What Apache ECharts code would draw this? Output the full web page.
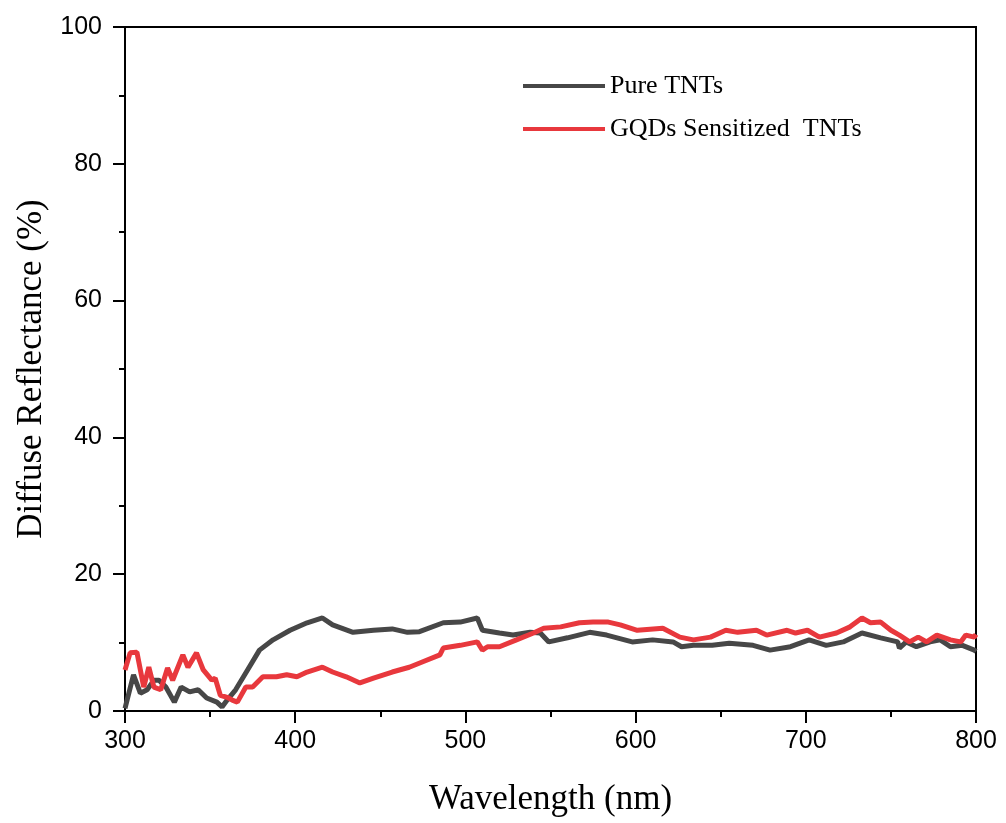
<!DOCTYPE html>
<html>
<head>
<meta charset="utf-8">
<script src="https://cdn.jsdelivr.net/npm/echarts@6/dist/echarts.min.js"></script>
<style>html,body{margin:0;padding:0;background:#fff;}#chart{width:1006px;height:823px;}</style>
</head>
<body>
<div id="chart"></div>
<script>
const seriesNames = ['Pure TNTs', 'GQDs Sensitized  TNTs'];
const pureWl = [300,305,309,313,317,320,324,329,333,338,343,348,354,357,360,365,372,379,387,397,407,416,422,434,446,457,466,473,487,497,507,510,520,528,538,544,549,560,573,583,598,610,622,627,634,645,655,669,679,691,702,712,722,733,744,754,755,759,765,773,779,785,792,799,800];
const pureVal = [0.4,5.3,2.6,3.1,4.5,4.5,3.5,1.3,3.5,2.8,3.1,1.9,1.3,0.6,1.6,3.1,6.0,8.9,10.4,11.8,12.9,13.6,12.6,11.5,11.8,12.0,11.5,11.6,12.9,13.0,13.6,11.8,11.4,11.1,11.5,11.4,10.1,10.7,11.5,11.1,10.1,10.4,10.1,9.4,9.6,9.6,9.9,9.6,8.9,9.4,10.4,9.6,10.1,11.4,10.7,10.1,9.2,10.1,9.4,10.1,10.4,9.4,9.6,8.9,8.7];
const gqdWl = [300,303,307,311,314,317,321,325,328,334,337,342,346,351,353,356,360,363,366,371,375,381,389,395,401,407,416,422,430,438,446,457,467,475,485,487,497,507,510,513,520,530,540,546,556,567,575,584,591,601,616,626,634,644,653,660,671,677,689,694,701,708,718,726,733,738,744,750,755,761,766,771,777,785,791,794,799,800];
const gqdVal = [6.0,8.5,8.6,3.5,6.4,3.5,3.1,6.3,4.5,8.2,6.4,8.5,6.0,4.5,4.8,2.3,2.0,1.6,1.3,3.5,3.5,5.0,5.0,5.3,5.0,5.7,6.4,5.7,5.0,4.1,4.8,5.7,6.4,7.2,8.2,9.2,9.6,10.1,8.9,9.4,9.4,10.4,11.4,12.1,12.3,12.9,13.0,13.0,12.6,11.8,12.1,10.8,10.4,10.8,11.8,11.5,11.8,11.1,11.8,11.4,11.8,10.8,11.4,12.3,13.6,12.9,13.0,11.8,11.1,10.1,10.8,10.1,11.1,10.4,10.1,11.1,10.8,11.2];
const xTicks = [300,400,500,600,700,800];
const yTicks = [0,20,40,60,80,100];

const chart = echarts.init(document.getElementById('chart'), null, {renderer:'canvas'});
const sans = 'Liberation Sans, Arial, sans-serif';
const serif = 'Liberation Serif, Times New Roman, serif';
chart.setOption({
  animation:false,
  backgroundColor:'#fff',
  grid:{left:125, top:27, right:30, bottom:112, containLabel:false, outerBoundsMode:'none',
        show:true, borderColor:'#000', borderWidth:2, backgroundColor:'transparent'},
  legend:{
    show:true, orient:'vertical', left:518, top:68, itemWidth:82, itemHeight:4, itemGap:17,
    icon:'rect',
    textStyle:{fontFamily:serif, fontSize:26, color:'#000', lineHeight:26, padding:[0,0,0,0]},
    data:seriesNames
  },
  xAxis:{
    type:'value', min:xTicks[0], max:xTicks[xTicks.length-1], interval:100,
    name:'Wavelength (nm)', nameLocation:'middle', nameGap:71,
    nameTextStyle:{fontFamily:serif, fontSize:35, color:'#000'},
    axisLine:{lineStyle:{color:'#000', width:2}},
    axisTick:{inside:false, length:12, lineStyle:{color:'#000', width:2}},
    minorTick:{show:true, splitNumber:2, length:6, lineStyle:{color:'#000', width:2}},
    axisLabel:{fontFamily:sans, fontSize:25, color:'#000', margin:18},
    splitLine:{show:false}
  },
  yAxis:{
    type:'value', min:yTicks[0], max:yTicks[yTicks.length-1], interval:20,
    name:'Diffuse Reflectance (%)', nameLocation:'middle', nameGap:76,
    nameTextStyle:{fontFamily:serif, fontSize:35, color:'#000'},
    axisLine:{lineStyle:{color:'#000', width:2}},
    axisTick:{inside:false, length:12, lineStyle:{color:'#000', width:2}},
    minorTick:{show:true, splitNumber:2, length:6, lineStyle:{color:'#000', width:2}},
    axisLabel:{fontFamily:sans, fontSize:25, color:'#000', margin:23},
    splitLine:{show:false}
  },
  series:[
    {name:seriesNames[0], type:'line', showSymbol:false, symbol:'none', z:2,
     data:pureWl.map((w,i)=>[w,pureVal[i]]),
     itemStyle:{color:'#474747'}, lineStyle:{color:'#474747', width:5}},
    {name:seriesNames[1], type:'line', showSymbol:false, symbol:'none', z:3,
     data:gqdWl.map((w,i)=>[w,gqdVal[i]]),
     itemStyle:{color:'#e8383d'}, lineStyle:{color:'#e8383d', width:5}}
  ]
});
</script>
</body>
</html>
